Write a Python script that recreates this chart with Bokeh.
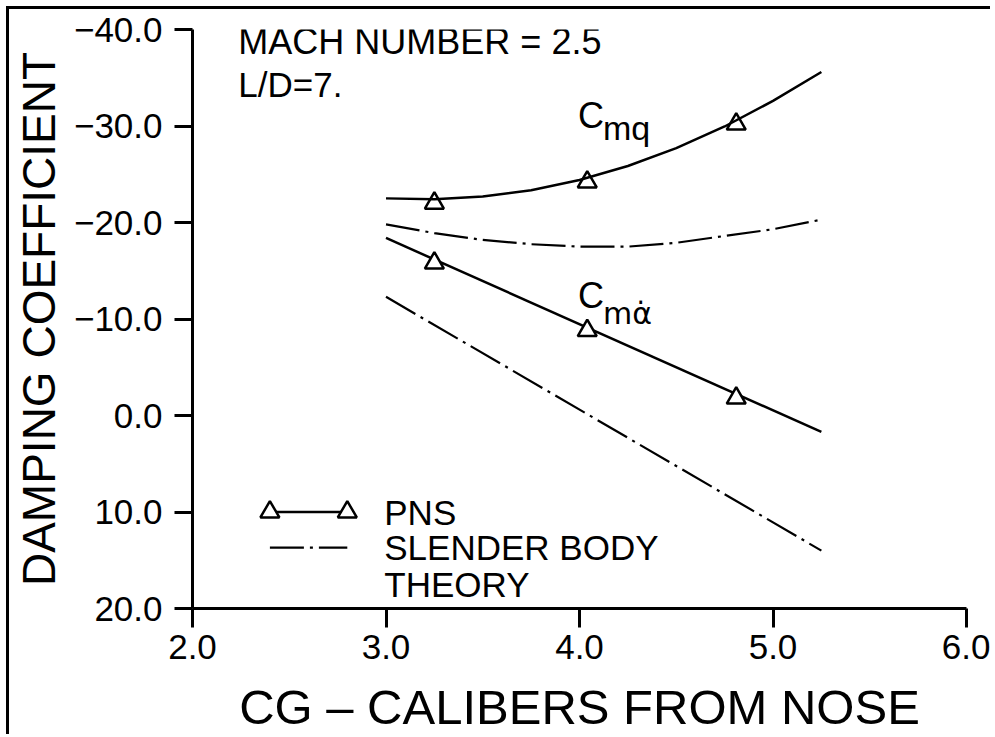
from bokeh.plotting import figure
from bokeh.models import Range1d, FixedTicker, Label
from bokeh.embed import file_html
from bokeh.resources import INLINE

# ---------------- data ----------------
curve_x = [3.0, 3.25, 3.5, 3.75, 4.0, 4.25, 4.5, 4.75, 5.0, 5.25]
cmq_pns_y = [-22.5, -22.4, -22.7, -23.35, -24.4, -25.85, -27.7, -29.95, -32.6, -35.6]
cmq_sb_y = [-19.8, -18.9, -18.2, -17.75, -17.5, -17.5, -17.9, -18.6, -19.3, -20.3]

line_x = [3.0, 5.25]
cmad_pns_y = [-18.4, 1.7]
cmad_sb_y = [-12.3, 14.0]

marker_x = [3.25, 4.04, 4.81]
cmq_marker_y = [-22.0, -24.2, -30.2]
cmad_marker_y = [-15.8, -8.8, -1.8]

x_ticks = [2, 3, 4, 5, 6]
x_tick_labels = ["2.0", "3.0", "4.0", "5.0", "6.0"]
y_ticks = [-40, -30, -20, -10, 0, 10, 20]
y_tick_labels = ["\u221240.0", "\u221230.0", "\u221220.0", "\u221210.0", "0.0", "10.0", "20.0"]

legend_x = [2.40, 2.80]
legend_pns_y = [10.0, 10.0]
legend_sb_y = [13.7, 13.7]

FONT = "Liberation Sans"
INK = "black"
DASHDOT = "34 6 3 6"

p = figure(width=984, height=728,
           x_range=Range1d(2, 6), y_range=Range1d(20, -40),
           output_backend="svg", toolbar_location=None,
           min_border_left=182, min_border_top=20,
           min_border_right=27, min_border_bottom=129)
p.styles = {"margin": "6px 0 0 6px",
            "border-top": "3px solid black",
            "border-left": "3px solid black"}
p.outline_line_color = None
p.grid.visible = False

p.xaxis.ticker = FixedTicker(ticks=x_ticks)
p.xaxis.major_label_overrides = {t: l for t, l in zip(x_ticks, x_tick_labels)}
p.yaxis.ticker = FixedTicker(ticks=y_ticks)
p.yaxis.major_label_overrides = {t: l for t, l in zip(y_ticks, y_tick_labels)}

for ax in (p.xaxis[0], p.yaxis[0]):
    ax.axis_line_width = 3
    ax.axis_line_color = INK
    ax.major_tick_line_width = 3
    ax.major_tick_line_color = INK
    ax.major_tick_in = 0
    ax.minor_tick_line_color = None
    ax.major_label_text_font = FONT
    ax.major_label_text_font_size = "35px"
    ax.major_label_text_color = INK
    ax.axis_label_text_font = FONT
    ax.axis_label_text_font_style = "normal"
    ax.axis_label_text_color = INK

p.xaxis.major_tick_out = 19
p.xaxis.major_label_standoff = 7
p.xaxis.axis_label = "CG \u2013 CALIBERS FROM NOSE"
p.xaxis.axis_label_text_font_size = "49px"
p.xaxis.axis_label_standoff = 18

p.yaxis.major_tick_out = 18
p.yaxis.major_label_standoff = 12
p.yaxis.axis_label = "DAMPING COEFFICIENT"
p.yaxis.axis_label_text_font_size = "46px"
p.yaxis.axis_label_standoff = 6

# curves
p.line(curve_x, cmq_pns_y, line_color=INK, line_width=2.5)
p.line(curve_x, cmq_sb_y, line_color=INK, line_width=2.2, line_dash=DASHDOT)
p.line(line_x, cmad_pns_y, line_color=INK, line_width=2.5)
p.line(line_x, cmad_sb_y, line_color=INK, line_width=2.2, line_dash=DASHDOT)

p.scatter(marker_x, cmq_marker_y, marker="triangle", size=19,
          fill_color=None, line_color=INK, line_width=2.5)
p.scatter(marker_x, cmad_marker_y, marker="triangle", size=19,
          fill_color="white", line_color=INK, line_width=2.5)

# legend key
p.line(legend_x, legend_pns_y, line_color=INK, line_width=2.5)
p.scatter(legend_x, legend_pns_y, marker="triangle", size=19,
          fill_color="white", line_color=INK, line_width=2.5)
p.line(legend_x, legend_sb_y, line_color=INK, line_width=2.2, line_dash=DASHDOT)


def add_text(x, y, text, size, font=FONT):
    p.add_layout(Label(x=x, y=y, text=text, text_font=font,
                       text_font_size=size, text_color=INK,
                       text_baseline="alphabetic", text_align="left"))


add_text(2.237, -38.8, "MACH NUMBER = 2.5", "36px")
add_text(2.237, -34.25, "L/D=7.", "35px")
add_text(3.992, -31.1, "C", "36px")
add_text(4.121, -29.8, "mq", "34px")
add_text(3.992, -12.45, "C", "36px")
add_text(4.121, -10.6, "m\u03b1\u0307", "30px", "DejaVu Sans")
add_text(2.991, 10.05, "PNS", "35px")
add_text(2.991, 13.7, "SLENDER BODY", "35px")
add_text(2.991, 17.55, "THEORY", "35px")

open("out.html", "w").write(file_html(p, INLINE))
